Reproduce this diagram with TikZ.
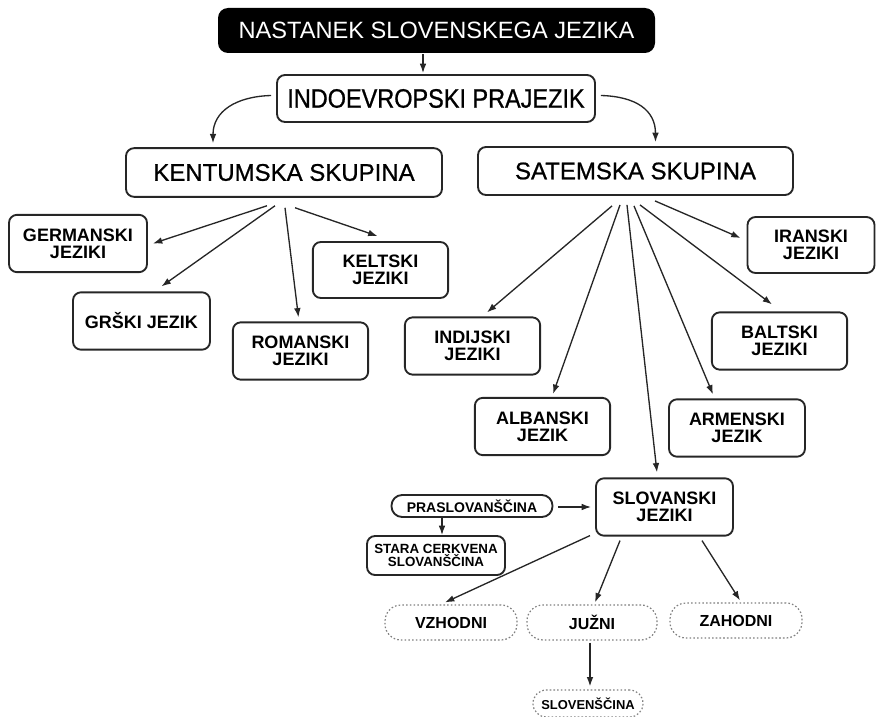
\documentclass[tikz,border=0pt]{standalone}
\usepackage{fontspec}
\setmainfont{Liberation Sans}
\newfontfamily\narrowfont{Liberation Sans}[FakeStretch=0.88, FakeBold=0.8]
\newfontfamily\mediumfont{Liberation Sans}[FakeBold=0.8]
\usepackage{tikz}
\usetikzlibrary{positioning}
\usetikzlibrary{calc}
\usetikzlibrary{arrows.meta}

\tikzset{
  langbox/.style={draw=black!85, line width=1.4pt, rounded corners=6pt, align=center, inner sep=0pt,
    minimum width=101.5pt, minimum height=43pt, font=\bfseries\fontsize{13.5}{12.5}\selectfont},
  groupbox/.style={langbox, font=\mediumfont\fontsize{18}{18}\selectfont, minimum width=237pt, minimum height=36.5pt},
  dotbox/.style={draw=black!50, line width=0.9pt, dash pattern=on 1.2pt off 1.6pt, rounded corners=12pt,
    align=center, inner sep=0pt, minimum width=99pt, minimum height=26.25pt, font=\bfseries\fontsize{12}{12}\selectfont},
  arr/.style={-{Latex[length=7pt,width=5pt]}, line width=1pt, draw=black!85},
}

\begin{document}
\begin{tikzpicture}[x=0.75pt,y=0.75pt,yscale=-1,xscale=1]
  \useasboundingbox (0,0) rectangle (876,717); %whole diagram, 876 by 717
  % Title
  \node (title) at (436.5,30.5) [fill=black, rounded corners=7.5pt, minimum width=327.75pt, minimum height=33.75pt, inner sep=0pt, text=white, font=\fontsize{17.7}{17.7}\selectfont] {NASTANEK SLOVENSKEGA JEZIKA};
  % Rounded Rects
  \node (indo) at (436,98.5) [langbox, minimum width=238.5pt, minimum height=35.25pt, font=\narrowfont\fontsize{20}{20}\selectfont] {INDOEVROPSKI PRAJEZIK};
  \node (kent) at (284,172.5) [groupbox] {KENTUMSKA SKUPINA};
  \node (sat) at (635.5,171) [groupbox, minimum width=236.25pt, minimum height=36pt] {SATEMSKA SKUPINA};
  % Text Node
  \node (germ) at (78,243.5) [langbox, minimum width=103.5pt] {GERMANSKI\\JEZIKI};
  \node (grsk) at (141.5,321) [langbox, minimum width=102.75pt] {GRŠKI JEZIK};
  \node (rom) at (300.5,351) [langbox] {ROMANSKI\\JEZIKI};
  \node (kelt) at (380.5,270) [langbox, minimum height=42pt] {KELTSKI\\JEZIKI};
  \node (iran) at (811,245) [langbox, minimum width=95.25pt, minimum height=42pt] {IRANSKI\\JEZIKI};
  \node (indij) at (472.5,346) [langbox] {INDIJSKI\\JEZIKI};
  \node (balt) at (779.5,341) [langbox] {BALTSKI\\JEZIKI};
  \node (alb) at (542.5,426.5) [langbox] {ALBANSKI\\JEZIK};
  \node (arm) at (737,428) [langbox, minimum width=102pt] {ARMENSKI\\JEZIK};
  \node (slov) at (664.5,507) [langbox, minimum width=102.75pt] {SLOVANSKI\\JEZIKI};
  \node (pras) at (472,506) [langbox, rounded corners=8pt, minimum width=120.75pt, minimum height=16.5pt, font=\bfseries\fontsize{10.5}{10.5}\selectfont] {PRASLOVANŠČINA};
  \node (stara) at (436,555.5) [langbox, minimum width=103.5pt, minimum height=29.25pt, font=\bfseries\fontsize{10}{10}\selectfont] {STARA CERKVENA\\SLOVANŠČINA};
  % Dotted Nodes
  \node (vzh) at (451,622.5) [dotbox] {VZHODNI};
  \node (juz) at (592,622.5) [dotbox, minimum width=97.5pt] {JUŽNI};
  \node (zah) at (736,620.5) [dotbox] {ZAHODNI};
  \node (slo) at (588,703.5) [dotbox, minimum width=82.5pt, minimum height=20.25pt, rounded corners=10pt, font=\bfseries\fontsize{9.7}{9.7}\selectfont] {SLOVENŠČINA};

  %Straight Lines
  \draw [arr] ($(title.south)+(-13.5,1)$) -- ($(indo.north)+(-13,-1)$);
  %Curves
  \draw [arr] ($(indo.west)+(-5,-3)$) .. controls +(-35,1) and +(0,-32) .. ($(kent.north)+(-71,-4)$);
  \draw [arr] ($(indo.east)+(5,-3)$) .. controls +(35,1) and +(0,-32) .. ($(sat.north)+(20,-4)$);
  %Straight Lines
  \draw [arr] ($(kent.south)+(-17,8)$) -- ($(germ.east)+(5,0)$);
  \draw [arr] ($(kent.south)+(-9,8)$) -- ($(grsk.north)+(20,-5)$);
  \draw [arr] ($(kent.south)+(1,10)$) -- ($(rom.north)+(-2,-4)$);
  \draw [arr] ($(kent.south)+(11,10)$) -- ($(kelt.north)+(-3,-5)$);
  %Straight Lines
  \draw [arr] ($(sat.south)+(-23.5,10)$) -- ($(indij.north)+(14.5,-4)$);
  \draw [arr] ($(sat.south)+(-15.5,9)$) -- ($(alb.north)+(10.5,-3)$);
  \draw [arr] ($(sat.south)+(-8.5,9)$) -- ($(slov.north)+(-7.5,-5)$);
  \draw [arr] ($(sat.south)+(-1.5,10)$) -- ($(arm.north)+(-24,-4)$);
  \draw [arr] ($(sat.south)+(4.5,9)$) -- ($(balt.north)+(-7.5,-7)$);
  \draw [arr] ($(sat.south)+(19.5,5)$) -- ($(iran.west)+(-6,-7)$);
  %Straight Lines
  \draw [arr] ($(pras.east)+(5,1)$) -- ($(slov.west)+(-4,0)$);
  \draw [arr] ($(pras.south)+(-30,0)$) -- ($(stara.north)+(6,0)$);
  \draw [arr] ($(slov.south)+(-74.5,-1)$) -- ($(vzh.north)+(-6,-2)$);
  \draw [arr] ($(slov.south)+(-44.5,4)$) -- ($(juz.north)+(3,-2)$);
  \draw [arr] ($(slov.south)+(37.5,4)$) -- ($(zah.north)+(4,-2)$);
  \draw [arr] ($(juz.south)+(-2,2)$) -- ($(slo.north)+(2,-3)$);
\end{tikzpicture}
\end{document}
